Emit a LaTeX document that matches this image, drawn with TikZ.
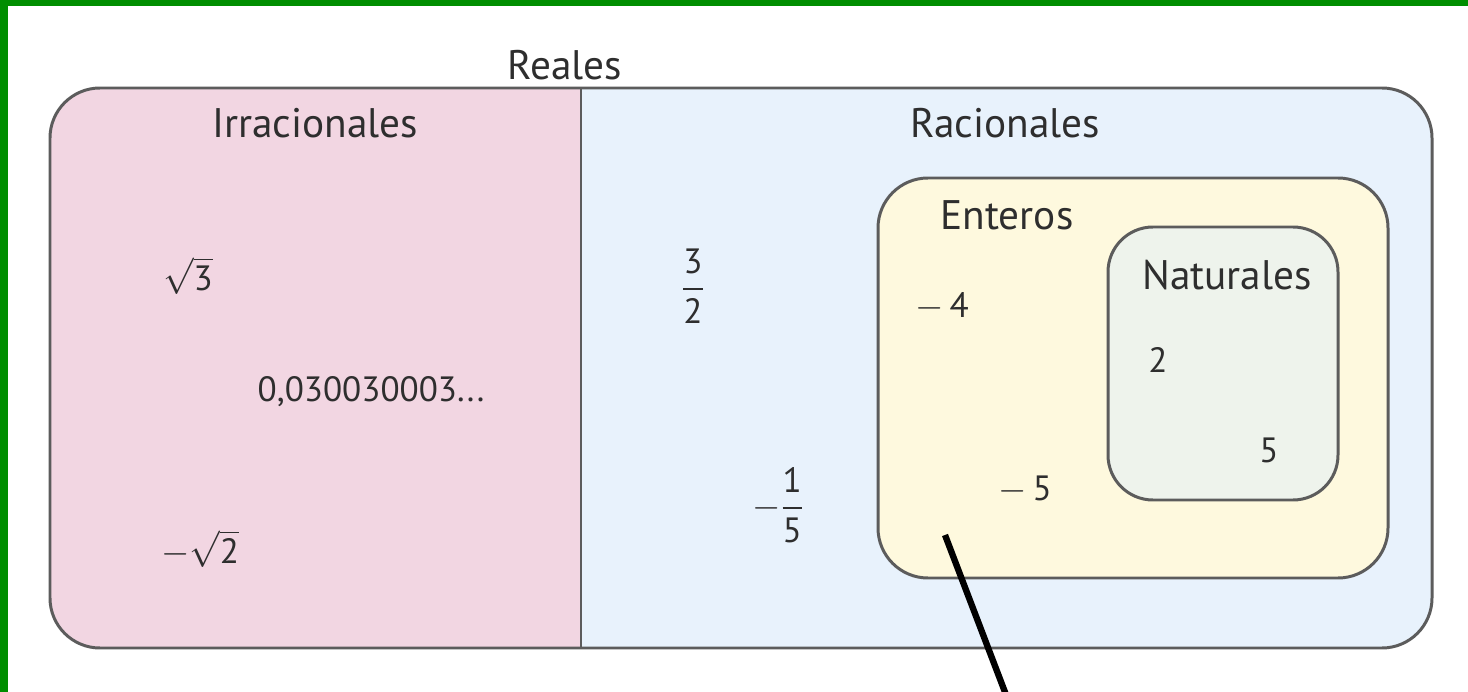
\documentclass[tikz,border=0pt]{standalone}
\usepackage{amsmath}
\usepackage{fontspec}
\setmainfont{PT Sans}
\usepackage[dvipsnames]{xcolor}
\usetikzlibrary{positioning}

\definecolor{marco}{HTML}{008E00}
\definecolor{rosa}{HTML}{F2D6E2}
\definecolor{celeste}{HTML}{E8F2FC}
\definecolor{crema}{HTML}{FEF9DE}
\definecolor{verdoso}{HTML}{EEF3EC}
\definecolor{borde}{HTML}{5C5C5C}
\definecolor{tinta}{HTML}{2E2E2E}

\tikzset{
  conjunto/.style={draw=borde, line width=1.7pt, rounded corners=#1},
  etiqueta/.style={text=tinta, font=\fontsize{23.5}{28}\selectfont, inner sep=0pt},
  numero/.style={text=tinta, font=\fontsize{20}{24}\selectfont, inner sep=0pt},
}

\begin{document}
\begin{tikzpicture}[x=0.02cm, y=-0.02cm]
    \useasboundingbox (0,0) rectangle (1468,692);
    \fill[white] (0,0) rectangle (1468,692);
    \fill[marco] (0,0) rectangle (1468,6);
    \fill[marco] (0,0) rectangle (8,692);

    % Reales: irracionales | racionales
    \begin{scope}
    \clip[rounded corners=1cm] (50,88) rectangle (1432,648);
    \fill[rosa] (50,88) rectangle (581,648);
    \fill[celeste] (581,88) rectangle (1432,648);
    \end{scope}
    \draw[conjunto=1cm] (50,88) rectangle (1432,648);
    \coordinate (div_a) at (581,88);
    \coordinate (div_b) at (581,648);
    \draw[draw=borde, line width=1.7pt] (div_a) -- (div_b);

    % Enteros y Naturales
    \draw[conjunto=1cm, fill=crema] (878,178) rectangle (1388,578);
    \draw[conjunto=0.9cm, fill=verdoso] (1108,227) rectangle (1338,500);

    \node[etiqueta] (reales) at (565,65) {Reales};
    \node[etiqueta] (irrac) at (315,123) {Irracionales};
    \node[etiqueta] (rac) at (1005,123) {Racionales};
    \node[etiqueta] (ent) at (1007,215) {Enteros};
    \node[etiqueta] (nat) at (1227,275) {Naturales};

    \foreach \p/\nombre/\val in {
        {(188,276)}/raiz3/{$\sqrt{\mbox{3}}$},
        {(371,392)}/dec/{0,030030003...},
        {(200,549)}/raiz2/{$-\sqrt{\mbox{2}}$},
        {(693,286)}/tresmed/{$\dfrac{\mbox{3}}{\mbox{2}}$},
        {(778,505)}/unquin/{$-\dfrac{\mbox{1}}{\mbox{5}}$},
        {(942,307)}/m4/{$-$\,4},
        {(1025,490)}/m5/{$-$\,5},
        {(1158,360)}/dos/{2},
        {(1269,450)}/cinco/{5}}{
    \node[numero] (\nombre) at \p {\val};
    }

    \coordinate (punta) at (945,535);
    \coordinate (pie) at (1008,700);
    \draw[line width=3.6pt] (punta) -- (pie);
\end{tikzpicture}
\end{document}
